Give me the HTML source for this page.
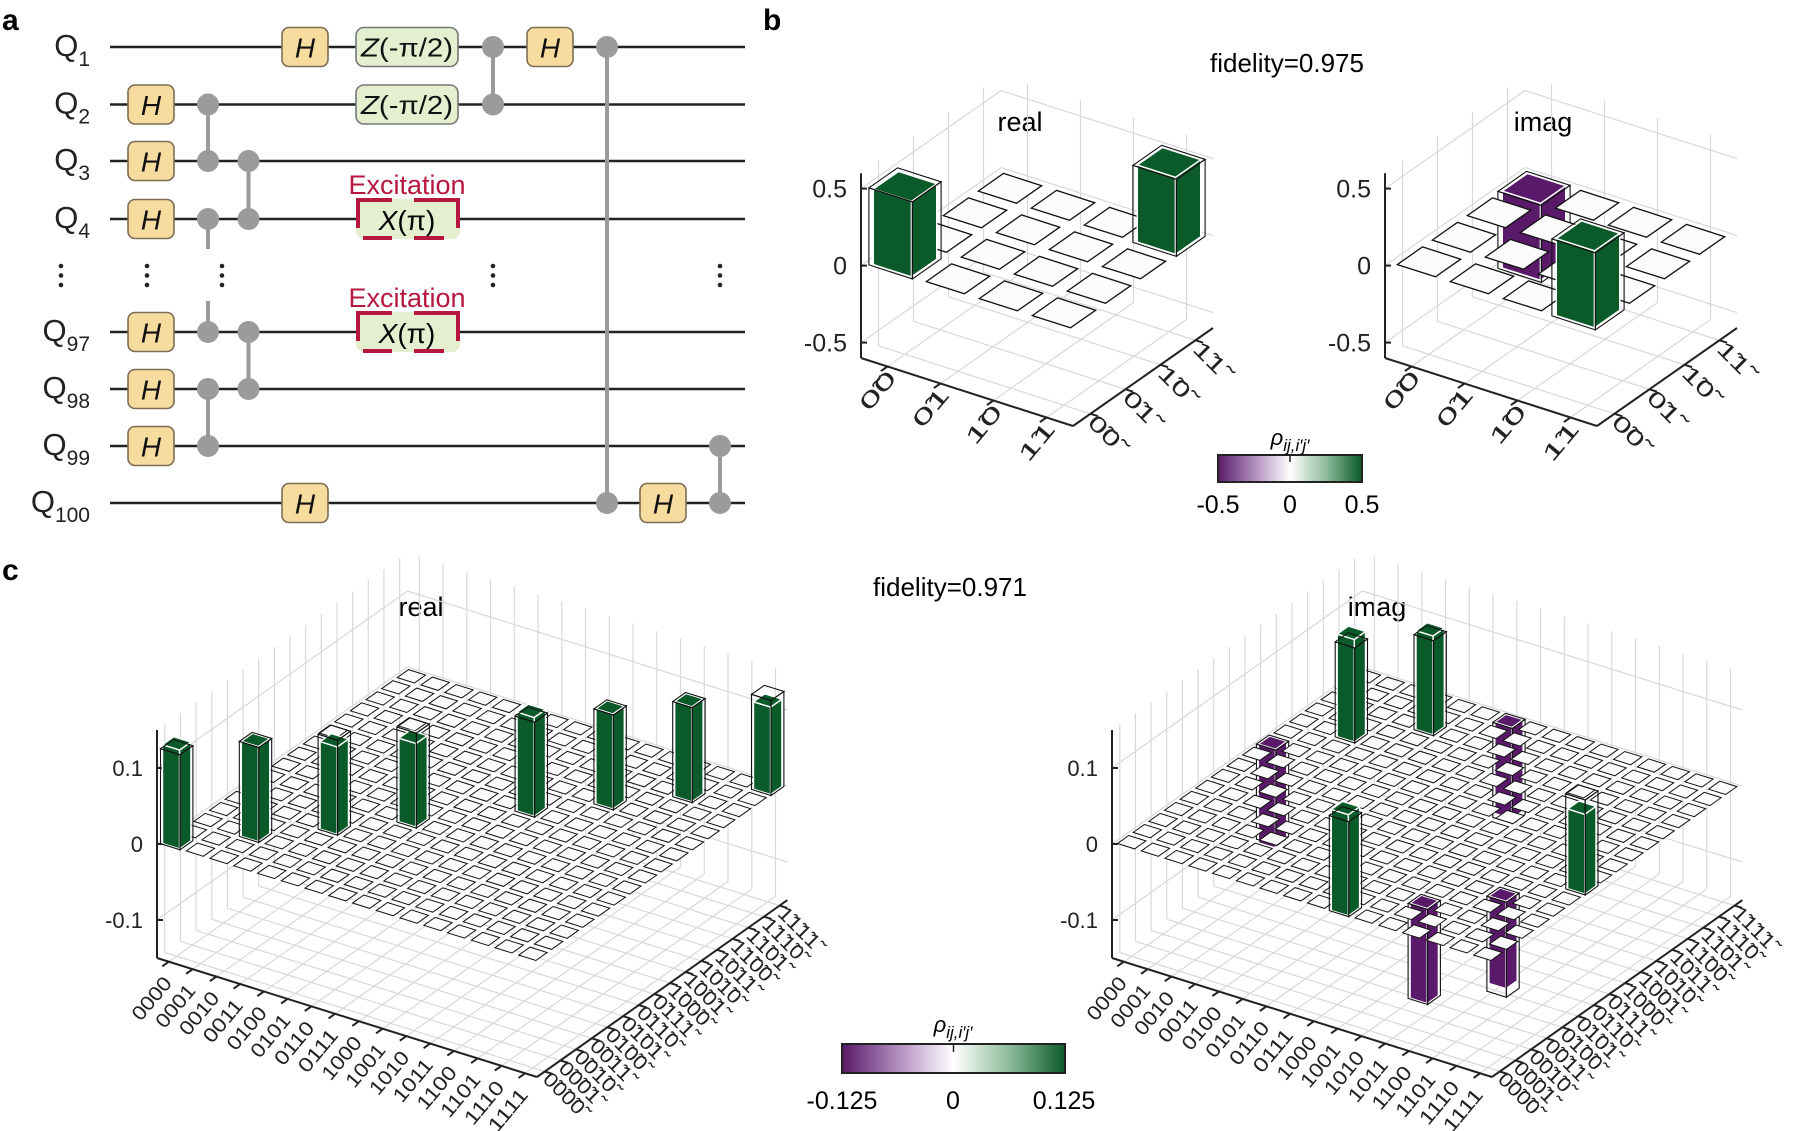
<!DOCTYPE html>
<html><head><meta charset="utf-8"><style>
html,body{margin:0;padding:0;background:#fff}
svg{display:block;font-family:"Liberation Sans",Arial,sans-serif}
</style></head><body>
<svg id="s" xmlns="http://www.w3.org/2000/svg" width="1795" height="1131" viewBox="0 0 1795 1131">
<defs>
<linearGradient id="cb" x1="0" x2="1" y1="0" y2="0">
<stop offset="0" stop-color="#581a68"/><stop offset="0.25" stop-color="#b08cbd"/><stop offset="0.5" stop-color="#ffffff"/><stop offset="0.75" stop-color="#8dbb9a"/><stop offset="1" stop-color="#0b5a2a"/>
</linearGradient>
</defs>
<rect width="1795" height="1131" fill="#fff"/>
<!-- panel a -->
<text x="2" y="30" font-size="30" font-weight="bold">a</text>
<g stroke="#222" stroke-width="2.5">
<line x1="110" y1="47" x2="745" y2="47"/><line x1="110" y1="104.5" x2="745" y2="104.5"/>
<line x1="110" y1="161" x2="745" y2="161"/><line x1="110" y1="219" x2="745" y2="219"/>
<line x1="110" y1="332" x2="745" y2="332"/><line x1="110" y1="389" x2="745" y2="389"/>
<line x1="110" y1="446" x2="745" y2="446"/><line x1="110" y1="503" x2="745" y2="503"/>
</g>
<g font-size="31" fill="#222" text-anchor="end">
<text x="90" y="56">Q<tspan dy="10" font-size="21">1</tspan></text>
<text x="90" y="113.5">Q<tspan dy="10" font-size="21">2</tspan></text>
<text x="90" y="170">Q<tspan dy="10" font-size="21">3</tspan></text>
<text x="90" y="228">Q<tspan dy="10" font-size="21">4</tspan></text>
<text x="90" y="341">Q<tspan dy="10" font-size="21">97</tspan></text>
<text x="90" y="398">Q<tspan dy="10" font-size="21">98</tspan></text>
<text x="90" y="455">Q<tspan dy="10" font-size="21">99</tspan></text>
<text x="90" y="512">Q<tspan dy="10" font-size="21">100</tspan></text>
</g>
<g stroke="#9b9b9b" stroke-width="4" fill="#9b9b9b">
<line x1="493" y1="47" x2="493" y2="104.5"/><circle cx="493" cy="47" r="9"/><circle cx="493" cy="104.5" r="9"/>
<line x1="208" y1="104.5" x2="208" y2="161"/><circle cx="208" cy="104.5" r="9"/><circle cx="208" cy="161" r="9"/>
<line x1="248.5" y1="161" x2="248.5" y2="219"/><circle cx="248.5" cy="161" r="9"/><circle cx="248.5" cy="219" r="9"/>
<line x1="208" y1="219" x2="208" y2="249"/><circle cx="208" cy="219" r="9"/>
<line x1="208" y1="301" x2="208" y2="332"/><circle cx="208" cy="332" r="9"/>
<line x1="248.5" y1="332" x2="248.5" y2="389"/><circle cx="248.5" cy="332" r="9"/><circle cx="248.5" cy="389" r="9"/>
<line x1="208" y1="389" x2="208" y2="446"/><circle cx="208" cy="389" r="9"/><circle cx="208" cy="446" r="9"/>
<line x1="607" y1="47" x2="607" y2="503"/><circle cx="607" cy="47" r="9"/><circle cx="607" cy="503" r="9"/>
<line x1="720" y1="446" x2="720" y2="503"/><circle cx="720" cy="446" r="9"/><circle cx="720" cy="503" r="9"/>
</g>
<g fill="#222">
<circle cx="61" cy="266" r="2.3"/><circle cx="61" cy="275.5" r="2.3"/><circle cx="61" cy="285" r="2.3"/>
<circle cx="147" cy="266" r="2.3"/><circle cx="147" cy="275.5" r="2.3"/><circle cx="147" cy="285" r="2.3"/>
<circle cx="222" cy="266" r="2.3"/><circle cx="222" cy="275.5" r="2.3"/><circle cx="222" cy="285" r="2.3"/>
<circle cx="493" cy="266" r="2.3"/><circle cx="493" cy="275.5" r="2.3"/><circle cx="493" cy="285" r="2.3"/>
<circle cx="720" cy="266" r="2.3"/><circle cx="720" cy="275.5" r="2.3"/><circle cx="720" cy="285" r="2.3"/>
</g>
<g fill="#f7dca0" stroke="#7d6d55" stroke-width="1.6">
<rect x="128" y="85" width="46" height="39" rx="7"/><rect x="128" y="141.5" width="46" height="39" rx="7"/>
<rect x="128" y="199.5" width="46" height="39" rx="7"/><rect x="128" y="312.5" width="46" height="39" rx="7"/>
<rect x="128" y="369.5" width="46" height="39" rx="7"/><rect x="128" y="426.5" width="46" height="39" rx="7"/>
<rect x="282" y="27.5" width="46" height="39" rx="7"/><rect x="527" y="27.5" width="46" height="39" rx="7"/>
<rect x="282" y="483.5" width="46" height="39" rx="7"/><rect x="640" y="483.5" width="46" height="39" rx="7"/>
</g>
<g font-size="28" font-style="italic" text-anchor="middle" fill="#111">
<text x="151" y="115">H</text><text x="151" y="171.5">H</text><text x="151" y="229.5">H</text>
<text x="151" y="342.5">H</text><text x="151" y="399.5">H</text><text x="151" y="456.5">H</text>
<text x="305" y="57.5">H</text><text x="550" y="57.5">H</text><text x="305" y="513.5">H</text><text x="663" y="513.5">H</text>
</g>
<g fill="#e3efcf" stroke="#777" stroke-width="1.6">
<rect x="356" y="27.5" width="102" height="39" rx="8"/><rect x="356" y="85" width="102" height="39" rx="8"/>
</g>
<g font-size="26" text-anchor="middle" fill="#111">
<text x="407" y="56.5" textLength="92" lengthAdjust="spacingAndGlyphs"><tspan font-style="italic">Z</tspan>(-π/2)</text>
<text x="407" y="114" textLength="92" lengthAdjust="spacingAndGlyphs"><tspan font-style="italic">Z</tspan>(-π/2)</text>
</g>
<g font-size="27" text-anchor="middle" fill="#b5173f">
<text x="407" y="194">Excitation</text><text x="407" y="307">Excitation</text>
</g>
<g>
<rect x="356" y="199" width="104" height="40" rx="8" fill="#e3efcf"/>
<rect x="356" y="312" width="104" height="40" rx="8" fill="#e3efcf"/>
<g stroke="#b5173f" stroke-width="4" fill="none">
<path d="M392 200 H358 V228 M414 200 H458 V228 M363 238 H392 M414 238 H444"/>
<path d="M392 313 H358 V341 M414 313 H458 V341 M363 351 H392 M414 351 H444"/>
</g>
<text x="407" y="230" font-size="28" text-anchor="middle"><tspan font-style="italic">X</tspan>(π)</text>
<text x="407" y="343" font-size="28" text-anchor="middle"><tspan font-style="italic">X</tspan>(π)</text>
</g>
<!-- panel b -->
<text x="763" y="30" font-size="30" font-weight="bold">b</text>
<text x="1287" y="72" font-size="26" text-anchor="middle">fidelity=0.975</text>
<text x="1020" y="131" font-size="27" text-anchor="middle">real</text>
<text x="1543" y="131" font-size="27" text-anchor="middle">imag</text>
<rect x="1218" y="455" width="144" height="27" fill="url(#cb)" stroke="#222" stroke-width="2"/>
<line x1="1290" y1="456" x2="1290" y2="462" stroke="#222" stroke-width="1.5"/>
<text x="1290" y="445" font-size="22" font-style="italic" text-anchor="middle">ρ<tspan dy="6" font-size="17">ij,i′j′</tspan></text>
<g font-size="25" text-anchor="middle"><text x="1218" y="513">-0.5</text><text x="1290" y="513">0</text><text x="1362" y="513">0.5</text></g>
<!-- panel c -->
<text x="2" y="580" font-size="30" font-weight="bold">c</text>
<text x="950" y="596" font-size="26" text-anchor="middle">fidelity=0.971</text>
<text x="421" y="616" font-size="27" text-anchor="middle">real</text>
<text x="1377" y="616" font-size="27" text-anchor="middle">imag</text>
<rect x="842" y="1044" width="223" height="29" fill="url(#cb)" stroke="#222" stroke-width="2"/>
<line x1="953.5" y1="1045" x2="953.5" y2="1052" stroke="#222" stroke-width="1.5"/>
<text x="953" y="1032" font-size="22" font-style="italic" text-anchor="middle">ρ<tspan dy="6" font-size="17">ij,i′j′</tspan></text>
<g font-size="25" text-anchor="middle"><text x="842" y="1109">-0.125</text><text x="953" y="1109">0</text><text x="1064" y="1109">0.125</text></g>
</svg>
<script>
const NS='http://www.w3.org/2000/svg';
const svg=document.getElementById('s');
function el(tag,a,p){const e=document.createElementNS(NS,tag);for(const k in a)e.setAttribute(k,a[k]);(p||svg).appendChild(e);return e;}
function plot(c){
 const g=el('g',{});
 const P=(uu,vv,z)=>[c.L[0]+uu*c.u[0]+vv*c.v[0], c.L[1]+uu*c.u[1]+vv*c.v[1]-(z-c.zmin)*c.zs];
 const pts=a=>a.map(p=>p[0].toFixed(1)+','+p[1].toFixed(1)).join(' ');
 const line=(a,b,st,sw)=>el('line',{x1:a[0].toFixed(1),y1:a[1].toFixed(1),x2:b[0].toFixed(1),y2:b[1].toFixed(1),stroke:st,'stroke-width':sw},g);
 const N=c.N,gc='#d8d8d8';
 for(let k=0;k<N;k++){
  line(P(0,k+.5,c.zmin),P(0,k+.5,c.zmax),gc,1.2);
  line(P(k+.5,N,c.zmin),P(k+.5,N,c.zmax),gc,1.2);
  line(P(k+.5,0,c.zmin),P(k+.5,N,c.zmin),gc,1.2);
  line(P(0,k+.5,c.zmin),P(N,k+.5,c.zmin),gc,1.2);
 }
 for(const t of c.ticks){line(P(0,0,t),P(0,N,t),gc,1.2);line(P(0,N,t),P(N,N,t),gc,1.2);}
 line(P(0,0,c.zmin),P(0,0,c.zmax),'#222',2);
 line(P(0,0,c.zmin),P(N,0,c.zmin),'#222',2);
 line(P(N,0,c.zmin),P(N,N,c.zmin),'#222',2);
 c.ticks.forEach((t,i)=>{const p=P(0,0,t);line(p,[p[0]+6,p[1]],'#222',2);
   const tx=el('text',{x:p[0]-14,y:p[1]+c.tf*0.36,'font-size':c.tf,'text-anchor':'end',fill:'#222'},g);tx.textContent=c.tl[i];});
 const vl=Math.hypot(c.v[0],c.v[1]),ul=Math.hypot(c.u[0],c.u[1]);
 for(let k=0;k<N;k++){
  let p=P(k+.5,0,c.zmin);line(p,[p[0]-8*c.v[0]/vl,p[1]-8*c.v[1]/vl],'#222',2);
  let t=el('text',{x:0,y:0,'font-size':c.lf,'text-anchor':'end',fill:'#222',textLength:c.ll,lengthAdjust:'spacingAndGlyphs',
    transform:`translate(${(p[0]+c.lo[0]).toFixed(1)},${(p[1]+c.lo[1]).toFixed(1)}) rotate(-50)`},g);t.textContent=c.labL[k];
  p=P(N,k+.5,c.zmin);line(p,[p[0]+8*c.u[0]/ul,p[1]+8*c.u[1]/ul],'#222',2);
  t=el('text',{x:0,y:0,'font-size':c.lf,'text-anchor':'start',fill:'#222',textLength:c.rl,lengthAdjust:'spacingAndGlyphs',
    transform:`translate(${(p[0]+c.ro[0]).toFixed(1)},${(p[1]+c.ro[1]).toFixed(1)}) rotate(45)`},g);t.textContent=c.labR[k];
 }
 const cells=[];for(let i=0;i<N;i++)for(let j=0;j<N;j++)cells.push([i,j]);
 cells.sort((a,b)=>(a[0]-a[1])-(b[0]-b[1])||(a[0]-b[0]));
 const w=c.w;
 for(const [i,j] of cells){
  const h=c.val(i,j),id=c.ideal(i,j),cu=i+.5,cv=j+.5;
  const A=(z,W)=>P(cu-W,cv-W,z),B=(z,W)=>P(cu+W,cv-W,z),C=(z,W)=>P(cu+W,cv+W,z),D=(z,W)=>P(cu-W,cv+W,z);
  if(Math.abs(h)<c.flat){
   el('polygon',{points:pts([A(0,w),B(0,w),C(0,w),D(0,w)]),fill:'#fbfbfb',stroke:'#111','stroke-width':c.sw},g);
  } else {
   const z0=Math.min(0,h),z1=Math.max(0,h),col=h>0?'#0b5a2a':'#5a1a6a';
   const st={fill:col,stroke:'#fff','stroke-width':1.4};
   el('polygon',Object.assign({points:pts([A(z0,w),B(z0,w),B(z1,w),A(z1,w)])},st),g);
   el('polygon',Object.assign({points:pts([B(z0,w),C(z0,w),C(z1,w),B(z1,w)])},st),g);
   el('polygon',Object.assign({points:pts([A(z1,w),B(z1,w),C(z1,w),D(z1,w)])},st),g);
  }
  if(id){
   const W=w+0.05,z0=Math.min(0,id),z1=Math.max(0,id);
   const o={fill:'none',stroke:'#111','stroke-width':1.1};
   el('polygon',Object.assign({points:pts([A(z0,W),B(z0,W),B(z1,W),A(z1,W)])},o),g);
   el('polygon',Object.assign({points:pts([B(z0,W),C(z0,W),C(z1,W),B(z1,W)])},o),g);
   el('polygon',Object.assign({points:pts([A(z1,W),B(z1,W),C(z1,W),D(z1,W)])},o),g);
  }
 }
}
const t='\u0303';
const bL=['0'+t+'0','0'+t+'1','1'+t+'0','1'+t+'1'];
const bR=['0'+t+'0'+t,'0'+t+'1'+t,'1'+t+'0'+t,'1'+t+'1'+t];
const cL=[],cR=[];for(let k=0;k<16;k++){const s=k.toString(2).padStart(4,'0');cL.push(s);cR.push(s.split('').map(x=>x+t).join(''));}
const bb={N:4,u:[53,17],v:[35,-24.5],zs:154,zmin:-0.6,zmax:0.6,ticks:[-0.5,0,0.5],tl:['-0.5','0','0.5'],tf:25,
 lf:22,ll:44,rl:36,lo:[10,12],ro:[-4,10],labL:bL,labR:bR,w:0.36,flat:0.03,sw:1.3};
plot(Object.assign({},bb,{L:[861,358],val:(i,j)=>i==j&&(i==0||i==3)?(i==0?0.49:0.5):0,ideal:(i,j)=>i==j&&(i==0||i==3)?0.5:0}));
plot(Object.assign({},bb,{L:[1385,358],val:(i,j)=>(i==0&&j==3)?-0.5:(i==3&&j==0)?0.5:0,ideal:(i,j)=>(i==0&&j==3)?-0.5:(i==3&&j==0)?0.5:0}));
const cc={N:16,u:[23.75,7.44],v:[15.65,-11.06],zs:760,zmin:-0.15,zmax:0.15,ticks:[-0.1,0,0.1],tl:['-0.1','0','0.1'],tf:22,
 lf:20,ll:50,rl:50,lo:[4,22],ro:[-3,9],labL:cL,labR:cR,w:0.36,flat:0.01,sw:1};
const rd={0:0.13,2:0.125,4:0.115,6:0.11,9:0.13,11:0.125,13:0.125,15:0.115};
plot(Object.assign({},cc,{L:[157,958],val:(i,j)=>i==j&&rd[i]!==undefined?rd[i]:0,ideal:(i,j)=>i==j&&rd[i]!==undefined?0.125:0}));
const im={'2,11':0.135,'4,13':0.13,'9,0':0.133,'15,6':0.105,'11,2':-0.125,'13,4':-0.115,'0,9':-0.13,'6,15':-0.12};
plot(Object.assign({},cc,{L:[1112,958],val:(i,j)=>im[i+','+j]||0,ideal:(i,j)=>im[i+','+j]?Math.sign(im[i+','+j])*0.125:0}));
</script>
</body></html>
